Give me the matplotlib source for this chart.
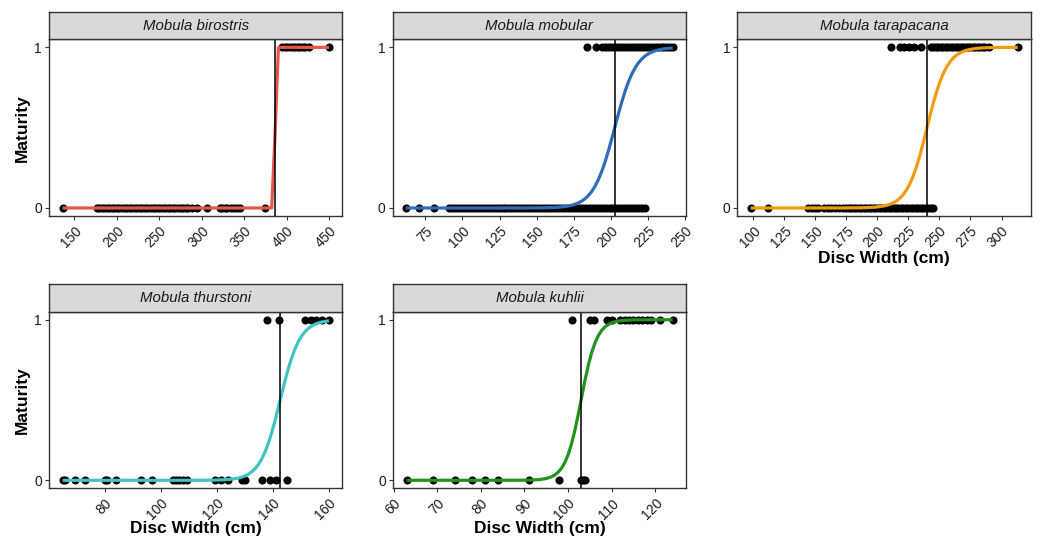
import numpy as np
import matplotlib
matplotlib.use("Agg")
import matplotlib.pyplot as plt

plt.rcParams['font.family'] = ['Liberation Sans', 'DejaVu Sans']

# ---------------- data ----------------
species = ["Mobula birostris", "Mobula mobular", "Mobula tarapacana",
           "Mobula thurstoni", "Mobula kuhlii"]
colors = ["#E8554C", "#2F6DB9", "#F39C12", "#3FC3C3", "#23921F"]

bir_immature = [136, 176, 179, 182, 185, 188, 191, 194, 197, 200, 203, 206, 209, 212,
                215, 218, 221, 224, 227, 230, 233, 236, 239, 242, 245, 248, 251, 254,
                257, 260, 263, 266, 269, 272, 275, 278, 281, 284, 288, 295, 306, 321,
                324, 327, 330, 334, 338, 341, 345, 375]
bir_mature = [395, 398, 401, 404, 407, 410, 413, 416, 419, 422, 426, 450]

mob_immature = [62, 71, 81, 91, 93, 95, 97, 99, 101, 103, 105, 107, 109, 111, 113, 115,
                117, 119, 121, 123, 125, 127, 129, 131, 133, 135, 137, 139, 141, 143,
                145, 147, 149, 151, 153, 155, 157, 159, 161, 163, 165, 167, 169, 171,
                173, 175, 177, 179, 181, 183, 185, 187, 189, 191, 193, 195, 197, 199,
                201, 203, 205, 207, 209, 211, 213, 215, 217, 219, 221, 223]
mob_mature = [184, 190, 194, 196, 198, 200, 202, 204, 206, 208, 210, 212, 214, 216,
              218, 220, 222, 224, 226, 228, 230, 232, 234, 236, 238, 240, 241.5]

tar_immature = [98, 112, 144, 147, 150, 152, 157, 160, 163, 166, 169, 172, 175, 177,
                179, 181, 183, 185, 187, 189, 191, 193, 195, 197, 199, 201, 203, 205,
                207, 209, 211, 213, 215, 217, 219, 221, 223, 225, 227, 229, 231, 233,
                235, 237, 239, 241, 243, 245]
tar_mature = [211, 218, 221.5, 225.5, 229.5, 235, 243.5, 245, 247, 249, 251, 253, 255,
              257, 259, 261, 263, 265, 267, 269, 271, 273, 275, 277, 279, 281, 283,
              285, 287, 290, 313]

thu_immature = [65, 66, 69.5, 73, 80, 81, 84, 93, 97, 104.5, 105.5, 106.5, 108, 109.5,
                119.5, 121.5, 124, 129, 130, 136, 139, 141, 145]
thu_mature = [138, 142, 151.5, 153.5, 155.5, 157.5, 160]

kuh_immature = [63, 69, 74, 78, 81, 84, 91, 98, 103, 103.5, 104]
kuh_mature = [101, 105, 106, 109, 110, 112, 113, 114, 115, 116, 117, 118, 119, 121, 124]

immature = [bir_immature, mob_immature, tar_immature, thu_immature, kuh_immature]
mature = [bir_mature, mob_mature, tar_mature, thu_mature, kuh_mature]

# fitted logistic parameters (L50, slope)
l50 = [386.5, 202.5, 240.0, 142.6, 103.0]
slope = [2.0, 0.14, 0.125, 0.285, 0.56]

xticks = [[150, 200, 250, 300, 350, 400, 450],
          [75, 100, 125, 150, 175, 200, 225, 250],
          [100, 125, 150, 175, 200, 225, 250, 275, 300],
          [80, 100, 120, 140, 160],
          [60, 70, 80, 90, 100, 110, 120]]

# ---------------- layout (pixels) ----------------
W, H = 1042, 540
fig = plt.figure(figsize=(W / 100, H / 100), dpi=100)

panels = [(49.3, 39.3, 342.3, 216.0),
          (392.6, 39.3, 686.0, 216.0),
          (737.4, 39.3, 1031.0, 216.0),
          (49.3, 311.7, 342.3, 488.3),
          (393.3, 311.7, 686.0, 488.3)]
strip_h = 27.5
edge = "#333333"

def frac_rect(x0, y0, x1, y1):
    return [x0 / W, 1 - y1 / H, (x1 - x0) / W, (y1 - y0) / H]

for i in range(5):
    x0, y0, x1, y1 = panels[i]
    ax = fig.add_axes(frac_rect(x0, y0, x1, y1))
    xi = np.array(immature[i], dtype=float)
    xm = np.array(mature[i], dtype=float)
    allx = np.concatenate([xi, xm])
    lo, hi = allx.min(), allx.max()
    pad = 0.05 * (hi - lo)

    ax.scatter(xi, np.zeros_like(xi), s=34, color="black", zorder=2, linewidths=0)
    ax.scatter(xm, np.ones_like(xm), s=34, color="black", zorder=2, linewidths=0)
    xs = np.linspace(lo, hi, 80)
    ys = 1 / (1 + np.exp(-slope[i] * (xs - l50[i])))
    ax.plot(xs, ys, color=colors[i], lw=2.3, zorder=3, solid_capstyle="butt")
    ax.axvline(l50[i], color="black", lw=1.1, zorder=4)

    ax.set_xlim(lo - pad, hi + pad)
    ax.set_ylim(-0.05, 1.05)
    ax.set_yticks([0, 1])
    ax.set_yticklabels(["0", "1"])
    ax.set_xticks(xticks[i])
    ax.set_xticklabels([str(t) for t in xticks[i]], rotation=45, ha="right",
                       va="top", rotation_mode="anchor")
    ax.tick_params(axis="both", length=3.2, width=0.8, color=edge,
                   labelsize=10, labelcolor="#1A1A1A", pad=2.0)
    ax.tick_params(axis="x", pad=2.5)
    for sp in ax.spines.values():
        sp.set_color(edge)
        sp.set_linewidth(1.0)

    # strip
    sax = fig.add_axes(frac_rect(x0, y0 - strip_h, x1, y0))
    sax.set_facecolor("#D9D9D9")
    sax.set_xticks([])
    sax.set_yticks([])
    for sp in sax.spines.values():
        sp.set_color(edge)
        sp.set_linewidth(1.0)
    sax.text(0.5, 0.5, species[i], transform=sax.transAxes, ha="center",
             va="center", fontsize=10.8, style="italic", color="#1A1A1A")

# axis titles
fig.text(22 / W, 1 - 128 / H, "Maturity", rotation=90, ha="center", va="center",
         fontsize=12.5, fontweight="bold")
fig.text(22 / W, 1 - 400 / H, "Maturity", rotation=90, ha="center", va="center",
         fontsize=12.5, fontweight="bold")
fig.text((737.4 + 1031) / 2 / W, 1 - 258 / H, "Disc Width (cm)", ha="center",
         va="center", fontsize=12.5, fontweight="bold")
fig.text((49.3 + 342.3) / 2 / W, 1 - 528 / H, "Disc Width (cm)", ha="center",
         va="center", fontsize=12.5, fontweight="bold")
fig.text((393.3 + 686) / 2 / W, 1 - 528 / H, "Disc Width (cm)", ha="center",
         va="center", fontsize=12.5, fontweight="bold")

fig.savefig("out.png", dpi=100, facecolor="white")
